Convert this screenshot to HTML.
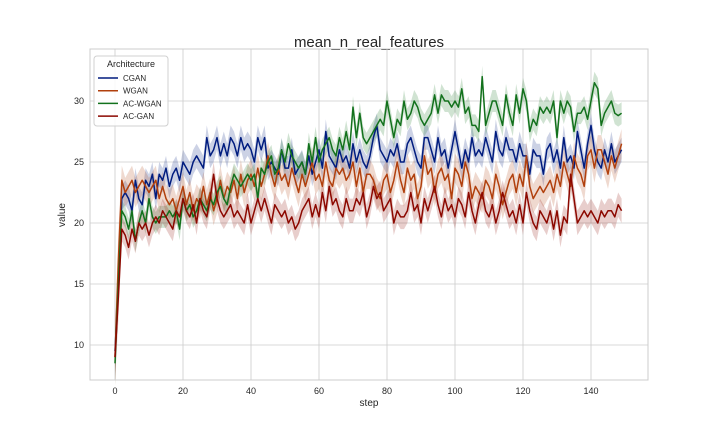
<!DOCTYPE html>
<html><head><meta charset="utf-8"><style>
body{margin:0;background:#fff;}
svg{display:block;font-family:"Liberation Sans",sans-serif;}
</style></head><body>
<svg id="chart" width="720" height="432">
<rect width="720" height="432" fill="#fff"/>
<text x="369" y="47" text-anchor="middle" font-size="15" fill="#262626">mean_n_real_features</text>
<g id="grid"></g>
<g id="bands"></g>
<g id="lines"></g>
<rect x="90" y="49" width="558" height="331" fill="none" stroke="#cccccc" stroke-width="1"/>
<g id="ticks" font-size="9" fill="#262626"></g>
<text x="369" y="406" text-anchor="middle" font-size="10" fill="#262626">step</text>
<text x="65" y="215" text-anchor="middle" font-size="10" fill="#262626" transform="rotate(-90 65 215)">value</text>
<g id="legend"></g>
</svg>
<script>
const names=["CGAN","WGAN","AC-WGAN","AC-GAN"];
const colors=["#001c7f","#b1400d","#12711c","#8c0800"];
const xTicks=[0,20,40,60,80,100,120,140];
const yTicks=[10,15,20,25,30];
const cgan=[9.5,15,22,22.5,22,21,23.5,22,21.5,23.5,23,24,22,24,23.5,24.5,23,24,24.5,23.5,25,24.5,24,25,25.5,25,24.5,27,25.5,26,27,25.5,26.5,25.5,27,26.5,25.5,27,26,26.5,26,25,27,26,27,24.5,25,24.5,24,26,24.5,24.5,26,24,24.5,25,24,25.5,24,25,26,24.5,27.5,25.5,25,24.5,26,25,25.5,24.5,26.5,25,26,25,24.5,25.5,27,28,26,25.5,25,26,25.5,26.5,25,25,26.5,27,26,25,24.5,27,27,26,25,27,25.5,26,24.5,26,27.5,26,24.5,26,25,27,25.5,26,25.5,27,26,25,27.5,26,25.5,27,26,26,25,26.5,25.5,25.5,24,26,25.5,25.5,24,26,26.5,25,26,24.5,27,25,25.5,24.5,27.5,26,24.5,26.5,28,26,25,24.5,26,25,26.5,25,25.5,26];
const wgan=[9,17,23.5,22.5,23,23.5,22.5,23,23.5,23,22.5,23,23.5,22,23,22,21.5,22,21,22,23,21.5,22.5,21,22,21.5,23,21.5,22.5,21,22,23.5,22,23,22.5,23.5,22,24,22.5,23.5,24,23,24.5,23,24,25.5,24,23,24.5,23.5,24,23,24.5,23.5,22.5,24,23,24,25,23.5,24,23,25,23.5,23,24.5,24,24.5,23.5,24,25,23,24.5,22.5,24,24,23.5,22.5,22,23.5,24,22.5,23.5,25,23.5,22.5,24.5,23.5,24,22,23,25.5,24,24.5,22.5,24,24.5,23.5,24,22,24.5,24,23,25,24,22,23,22.5,22,23.5,23,22,24,23,21.5,22.5,23.5,24,22.5,24,23,25.5,23,22,22.5,23,22.5,23,23.5,22.5,24,23,25,24,23,25.5,24.5,24,23,25.5,26,24.5,26,26,25,24,25.5,24.5,25.5,26.5];
const acwgan=[8.5,15,21,20.5,19.5,21,18.5,20,21,20,22,20.5,20,20.5,20.5,20.5,21,20.5,21,19.5,22,21,21.5,20.5,21,22,21.5,21,22,21.5,22.5,23,22,21.5,23,24,23.5,23,23.5,24,23.5,24,22,24.5,24,25,25.5,24,24.5,26,25,26.5,25.5,25,24.5,25,24,26.5,25,27,25,26,26.5,27,26,25.5,27,26,27.5,26,29.5,27,29,27,26.5,27,27.5,28,28.5,28,30,28.5,27,28.5,28,30,28.5,29,30,29.5,28.5,28,28.5,29,30.5,29,30.5,30,30,29.5,30,29.5,31,29,29.5,28,28,27.5,32,28,29,30,30,29,28,30.5,29,28,30.5,29,31,30,27.5,28.5,28,29.5,29,29.5,29,30,27,30,29,30,29.5,27.5,29,29,29.5,28.5,30,31.5,31,28,29,29.5,30,29,28.8,29];
const acgan=[9,14,19.5,19,18,19.5,18.5,20,19.5,20,19,20,20.5,20,21,20.5,20,19.5,21,20.5,22,21,20.5,21.5,20,22,21,20.5,22,24,22,21,20.5,21,21.5,20.5,21,20.5,20,21.5,20,21,22,21,22,21,20,21.5,21,20.5,21,20,20.5,19.5,20,21,21.5,22,20.5,21.5,20.5,22.5,21,23,21.5,22,21,20.5,22,21,21,22,21.5,22.5,20.5,21.5,23,22,22.5,21,21.5,22,20,21,20.5,20.5,21,22.5,21,21.5,20,22,21,22,23,21.5,20.5,22,21,21.5,20.5,22,21.5,20.5,22.5,21,20,21.5,22.5,21,20.5,21.5,20,21,22.5,21.5,20.5,21,20,21.5,20,22.5,21,20,19.5,21,20.5,20,21,19.5,21,19,20.5,20,24,22,20,20.5,21,20.5,21,20.5,20,21,20.5,21,21,20.5,21.5,21];
const ciHalf=[1.0,1.2,0.9,1.0];
const series=[cgan,wgan,acwgan,acgan];
const NS="http://www.w3.org/2000/svg";
const xS=v=>115+v*3.4;
const yS=v=>345-(v-10)*12.2;
function mk(tag,attrs,parent){const e=document.createElementNS(NS,tag);for(const k in attrs)e.setAttribute(k,attrs[k]);parent.appendChild(e);return e;}
const grid=document.getElementById('grid'),ticks=document.getElementById('ticks');
xTicks.forEach(t=>{
 const l=mk('line',{x1:xS(t),x2:xS(t),y1:49,y2:380,stroke:'#cccccc','stroke-width':0.8},grid);
 
 
 const tx=mk('text',{x:xS(t),y:394,'text-anchor':'middle'},ticks);tx.textContent=t;
 
 
});
yTicks.forEach(t=>{
 const l=mk('line',{x1:90,x2:648,y1:yS(t),y2:yS(t),stroke:'#cccccc','stroke-width':0.8},grid);
 
 
 const tx=mk('text',{x:84,y:yS(t)+3,'text-anchor':'end'},ticks);tx.textContent=t;
 
 
});
const bands=document.getElementById('bands'),lines=document.getElementById('lines');
series.forEach((s,i)=>{
 const up=s.map((v,k)=>xS(k)+','+yS(v+ciHalf[i]*(k<2?2:1)));
 const dn=s.map((v,k)=>xS(k)+','+yS(v-ciHalf[i]*(k<2?2:1))).reverse();
 const b=mk('polygon',{points:up.concat(dn).join(' '),fill:colors[i],'fill-opacity':0.2},bands);
 
 
});
series.forEach((s,i)=>{
 const p=mk('polyline',{points:s.map((v,k)=>xS(k)+','+yS(v)).join(' '),fill:'none',stroke:colors[i],'stroke-width':1.5,'stroke-linejoin':'round'},lines);
 
 
});
const lg=document.getElementById('legend');
mk('rect',{x:94,y:56,width:74,height:70,rx:3,fill:'#fff','fill-opacity':0.85,stroke:'#d0d0d0'},lg);
const lt=mk('text',{x:131,y:67,'text-anchor':'middle','font-size':9,fill:'#262626'},lg);lt.textContent='Architecture';


names.forEach((n,i)=>{
 const y=78+i*12.7;
 const g=mk('g',{},lg);
 
 
 mk('line',{x1:98,x2:118,y1:y,y2:y,stroke:colors[i],'stroke-width':1.5},g);
 const t=mk('text',{x:123,y:y+3,'font-size':8,fill:'#262626'},g);t.textContent=n;
});
</script>
</body></html>
